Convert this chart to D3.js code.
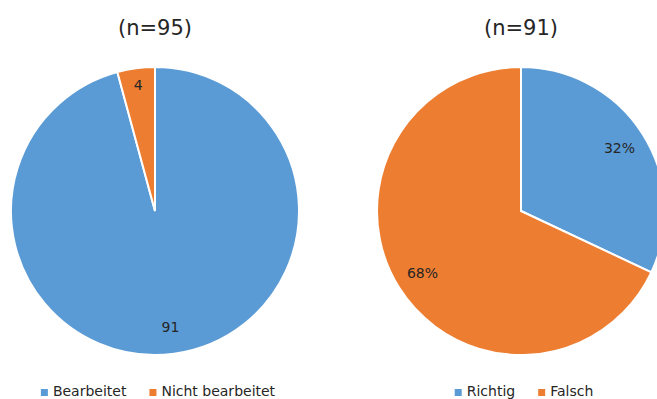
<!DOCTYPE html>
<html>
<head>
<meta charset="utf-8">
<script src="https://cdn.jsdelivr.net/npm/d3@7"></script>
<style>
  body { margin: 0; background: #fff; }
  text { font-family: "DejaVu Sans", sans-serif; fill: #262626; }
</style>
</head>
<body>
<div id="chart"></div>
<script>
// Chart data
var titles = ["(n=95)", "(n=91)"];
var leftCategories = ["Bearbeitet", "Nicht bearbeitet"];
var leftValues = [91, 4];
var rightCategories = ["Richtig", "Falsch"];
var rightValues = [32, 68];
var colors = ["#5B9BD5", "#ED7D31"];

// Chart params
var svgWidth = 657;
var svgHeight = 399;
var radius = 144;
var centers = [{ x: 155, y: 211 }, { x: 521, y: 211 }];

var svg = d3.select("#chart")
  .append("svg")
  .attr("width", svgWidth)
  .attr("height", svgHeight);

var pie = d3.pie().sort(null).value(d => d.value);
var arc = d3.arc().innerRadius(0).outerRadius(radius);

function drawPie(i, categories, values, labelFn) {
  var data = categories.map((c, j) => ({ name: c, value: values[j], color: colors[j] }));
  var total = d3.sum(values);
  var c = centers[i];

  var g = svg.append("g")
    .attr("transform", `translate(${c.x}, ${c.y})`);

  g.selectAll("path")
    .data(pie(data))
    .enter()
    .append("path")
    .attr("d", arc)
    .attr("fill", d => d.data.color)
    .attr("stroke", "#fff")
    .attr("stroke-width", 2);

  // data labels near the outer part of each slice
  g.selectAll(".label")
    .data(pie(data))
    .enter()
    .append("text")
    .attr("class", "label")
    .attr("text-anchor", "middle")
    .attr("dy", "0.35em")
    .style("font-size", "14px")
    .attr("transform", function(d) {
      var r = (d.endAngle - d.startAngle) < 0.5 ? radius * 0.88 : radius * 0.81;
      var a = (d.startAngle + d.endAngle) / 2;
      return `translate(${r * Math.sin(a)}, ${-r * Math.cos(a)})`;
    })
    .text(d => labelFn(d.data.value, total));

  // title
  svg.append("text")
    .attr("x", c.x)
    .attr("y", 35)
    .attr("text-anchor", "middle")
    .style("font-size", "21px")
    .text(titles[i]);

  // legend, centred under the pie
  var legend = svg.append("g");
  var x = 0;
  data.forEach(function(d, j) {
    legend.append("rect")
      .attr("x", x)
      .attr("y", -7)
      .attr("width", 7)
      .attr("height", 7)
      .attr("fill", d.color);
    var t = legend.append("text")
      .attr("x", x + 12)
      .attr("y", 0)
      .style("font-size", "14px")
      .text(d.name);
    x += 12 + t.node().getComputedTextLength() + 23;
  });
  var w = x - 23;
  legend.attr("transform", `translate(${c.x - w / 2 + 3}, 396)`);
}

drawPie(0, leftCategories, leftValues, v => v);
drawPie(1, rightCategories, rightValues, (v, t) => Math.round(v / t * 100) + "%");
</script>
</body>
</html>
